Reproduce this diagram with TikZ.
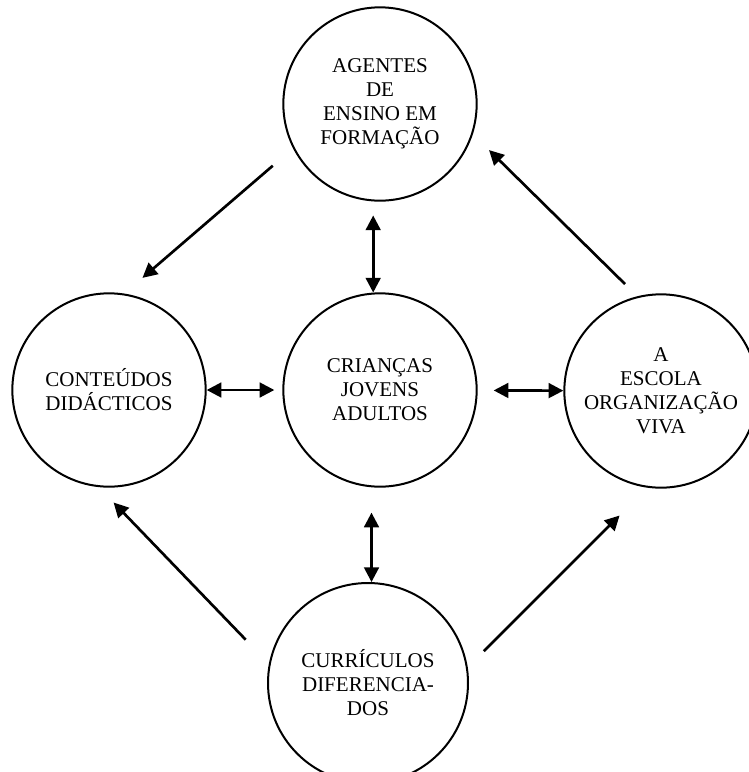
\documentclass[tikz,border=0pt]{standalone}
\usepackage{fontspec}
\setmainfont{Liberation Serif}
\usetikzlibrary{arrows.meta}
\tikzset{
  circ/.style={draw, circle, line width=1.5pt, minimum size=145pt, inner sep=0pt,
    align=center, font=\fontsize{15.75}{18}\selectfont},
  flow/.style={-{Triangle[length=11pt,width=11pt]}, line width=2pt},
  twoway/.style={{Triangle[length=11pt,width=11pt]}-{Triangle[length=11pt,width=11pt]}, line width=2pt}
}
\begin{document}
\begin{tikzpicture}[x=0.75pt, y=0.75pt]
    \useasboundingbox (0,0) rectangle (749,-772);
    % the five circles
    \node[circ] (agentes) at (380,-104) {AGENTES\\DE\\ENSINO EM\\FORMAÇÃO};
    \node[circ] (conteudos) at (109,-390) {CONTEÚDOS\\DIDÁCTICOS};
    \node[circ] (criancas) at (380,-390) {CRIANÇAS\\JOVENS\\ADULTOS};
    \node[circ] (escola) at (661,-391) {A\\ESCOLA\\ORGANIZAÇÃO\\VIVA};
    \node[circ, minimum size=150pt] (curriculos) at (368,-683) {CURRÍCULOS\\DIFERENCIA-\\DOS};
    % two-way links to the centre
    \draw[twoway, shorten <=10.5pt] (agentes.266) -- (criancas.94);
    \draw[twoway, shorten <=19pt] (criancas.265) -- (curriculos.88);
    \draw[twoway, shorten >=6pt] (conteudos) -- (criancas);
    \draw[twoway, shorten <=12pt] (criancas) -- (escola);
    % the outer cycle
    \draw[flow, shorten <=20pt, shorten >=18pt] (agentes.207) -- (conteudos.81);
    \draw[flow, shorten <=13pt, shorten >=17pt] (escola.104) -- (agentes.342);
    \draw[flow, shorten <=25pt, shorten >=16pt] (curriculos.169) -- (conteudos.264);
    \draw[flow, shorten <=17pt, shorten >=29.5pt] (curriculos.9) -- (escola.262);
\end{tikzpicture}
\end{document}
